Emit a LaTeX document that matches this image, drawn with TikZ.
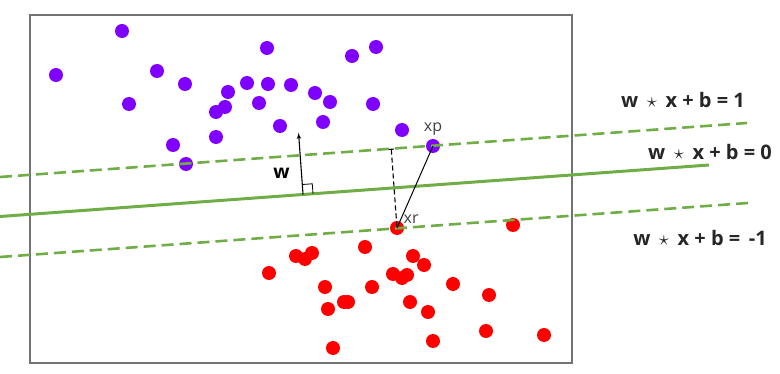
\documentclass[tikz,border=0pt]{standalone}
\usepackage{fontspec}
\setmainfont{Open Sans}
\usepackage {tikz}
\usetikzlibrary {positioning}
\usetikzlibrary{arrows,arrows.meta,calc}
\definecolor{svmgreen}{RGB}{112,173,71}
\definecolor{svmpurple}{RGB}{128,0,255}
\definecolor{svmred}{RGB}{255,0,0}
\tikzstyle{frame} = [draw=black!55, line width=1.8pt]
\tikzstyle{hyper} = [draw=svmgreen, line width=3pt]
\tikzstyle{margin} = [draw=svmgreen, line width=2.6pt, dash pattern=on 12pt off 6pt]
\tikzstyle{line} = [draw, line width=1.1pt, -latex']
\tikzstyle{pdot} = [circle, fill=svmpurple, inner sep=0pt, minimum size=14pt]
\tikzstyle{rdot} = [circle, fill=svmred, inner sep=0pt, minimum size=14pt]
\tikzstyle{eqn} = [font=\bfseries\fontsize{20}{22}\selectfont, text=black!85]
\tikzstyle{vlabel} = [font=\fontsize{16}{18}\selectfont, text=black!75]

\begin{document}
\begin{tikzpicture}[x=1pt, y=-1pt, auto]
    \useasboundingbox (0,0) rectangle (780,374);
    % Frame
    \draw [frame] (30,15) rectangle (572,363);

    % Place points
    \foreach \p [count=\i] in {(122,31),(267,48),(352,56),(376,47),(56,75),
        (157,71),(185,84),(129,104),(228,92),(247,83),(268,84),(291,85),
        (315,93),(330,102),(373,104),(216,112),(225,107),(259,103),(280,126),
        (323,122),(216,137),(173,145),(186,164),(402,130)}
        \node [pdot] (pos\i) at \p {};
    \node [pdot] (xp) at (433,146) {};
    \foreach \p [count=\i] in {(269,273),(296,256),(305,259),(312,253),
        (365,247),(325,287),(372,287),(344,302),(348,302),(328,309),(333,348),
        (513,225),(413,256),(424,265),(393,274),(402,278),(407,275),(453,284),
        (489,295),(410,302),(428,312),(486,331),(544,335),(433,341)}
        \node [rdot] (neg\i) at \p {};
    \node [rdot] (xr) at (397,228) {};

    % Hyperplane and margins
    \coordinate (hypL) at (0,216.5);
    \coordinate (hypR) at (709,165);
    \coordinate (upL) at (0,177);
    \coordinate (upR) at (747,123);
    \coordinate (lowL) at (0,257);
    \coordinate (lowR) at (748,203);
    \path [hyper] (hypL) -- (hypR);
    \path [margin] (upL) -- (upR);
    \path [margin] (lowL) -- (lowR);

    % Labels
    \node [eqn] (eqone) at (683,100) {w \,$\star$\, x + b = 1};
    \node [eqn] (eqzero) at (710,152) {w \,$\star$\, x + b = 0};
    \node [eqn] (eqmone) at (700,238) {w \,$\star$\, x + b = \,-1};

    % Normal vector w
    \coordinate (wfoot) at ($(hypL)!0.4274!(hypR)$);
    \coordinate (wtip) at ($(wfoot)!62pt!90:(hypR)$);
    \path [line] (wfoot) -- node [left=8pt, pos=0.35, font=\bfseries\fontsize{19}{20}\selectfont] {w} (wtip);
    \coordinate (sqa) at ($(wfoot)!10pt!(hypR)$);
    \coordinate (sqb) at ($(wfoot)!10pt!(wtip)$);
    \draw [line width=0.8pt] (sqa) -- ($(sqa)+(sqb)-(wfoot)$) -- (sqb);

    % Distance between the margins
    \coordinate (proj) at ($(upL)!(xr.center)!(upR)$);
    \draw [line width=1.1pt, dash pattern=on 5pt off 3pt, {Bar[width=5pt]}-] (proj) -- (xr.center);
    \draw [line width=1pt] (xr.center) -- (xp.center);
    \node [vlabel, above=0pt of xp] (xplabel) {xp};
    \node [vlabel, above right=-4pt and -2pt of xr] (xrlabel) {xr};
\end{tikzpicture}
\end{document}
